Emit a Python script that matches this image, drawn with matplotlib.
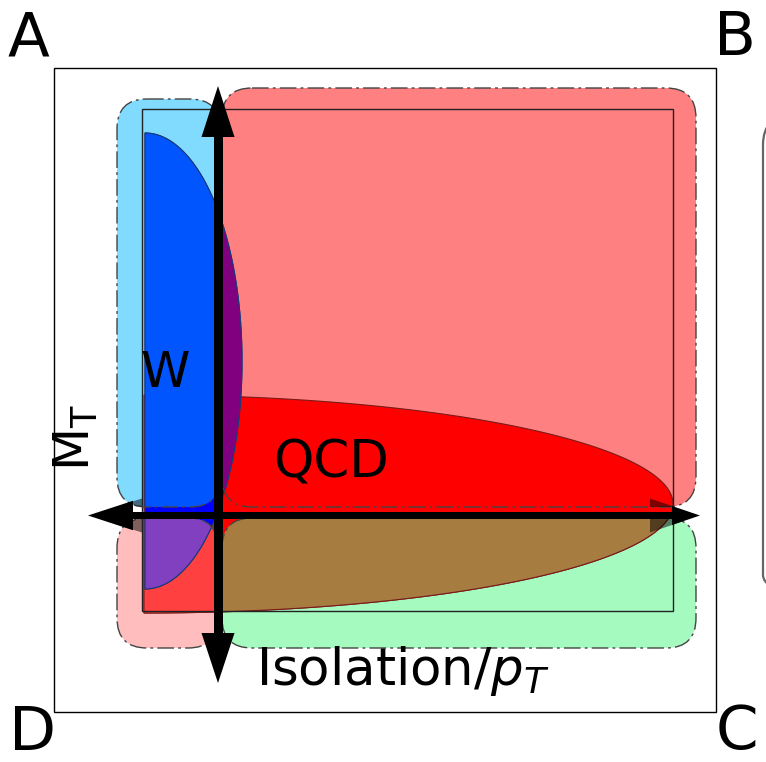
import numpy as np
import matplotlib.pyplot as plt
from matplotlib.patches import FancyBboxPatch, Rectangle, Polygon

# region corner labels (ABCD method)
corner_labels = ['A', 'B', 'C', 'D']
corner_x = [28, 735, 737, 33]
corner_y = [55, 55, 749, 750]

# region boxes: (x0, y0, x1, y1) in picture units
box_names = ['W region', 'QCD signal', 'low iso', 'low MT']
box_x0 = [117, 222, 117, 222]
box_y0 = [99, 88, 518, 518]
box_x1 = [220, 696, 218, 696]
box_y1 = [507, 507, 648, 648]
box_colors = ['#80DBFF', '#FF8080', '#FFBDBD', '#A5FAC0']

# process shapes (half ellipses): centre, radii
w_centre, w_radii = (145, 361), (97, 228)
qcd_centre, qcd_radii = (144, 504), (529, 109)

# axis cuts
iso_cut = 218
mt_cut = 515.5

fig = plt.figure(figsize=(7.66, 7.62), dpi=100)
ax = fig.add_axes([0, 0, 1, 1])
ax.set_xlim(0, 766)
ax.set_ylim(762, 0)
ax.axis('off')

# outer frame and the edge of the next panel
ax.add_patch(Rectangle((54, 68), 716 - 54, 712 - 68, fill=False, lw=1.0, ec='black', zorder=0.5))
ax.add_patch(FancyBboxPatch((763, 115), 200, 490, boxstyle='round,pad=0,rounding_size=30',
                            fill=False, lw=1.6, ec='#666666', zorder=0.5))

boxes = []
for x0, y0, x1, y1, c in zip(box_x0, box_y0, box_x1, box_y1, box_colors):
    p = FancyBboxPatch((x0, y0), x1 - x0, y1 - y0, boxstyle='round,pad=0,rounding_size=30',
                       fc=c, ec='none', zorder=1)
    ax.add_patch(p)
    boxes.append(p)


def half_ellipse(centre, radii):
    t = np.linspace(-np.pi / 2, np.pi / 2, 200)
    xs = centre[0] + radii[0] * np.cos(t)
    ys = centre[1] + radii[1] * np.sin(t)
    return np.column_stack([xs, ys])


def draw_shape(pts, base, clips, z, edge):
    p = Polygon(pts, closed=True, fc=base, ec=edge, lw=0.8, zorder=z)
    ax.add_patch(p)
    for box, col in clips:
        q = Polygon(pts, closed=True, fc=col, ec=edge, lw=0.8, zorder=z + 0.1)
        ax.add_patch(q)
        q.set_clip_path(box)


qcd_pts = half_ellipse(qcd_centre, qcd_radii)
draw_shape(qcd_pts, '#FF0000', [(boxes[2], '#FF4040'), (boxes[3], '#A67C40')], 2, '#7a1a1a')

w_pts = half_ellipse(w_centre, w_radii)
draw_shape(w_pts, '#0000FF', [(boxes[0], '#0055FF'), (boxes[1], '#800080'), (boxes[2], '#8040C0')],
           3, '#1a3a7a')

ax.add_patch(Rectangle((142, 109), 673 - 142, 611 - 109, fill=False, lw=1.0, ec='#222222', zorder=4))

for x0, y0, x1, y1 in zip(box_x0, box_y0, box_x1, box_y1):
    ax.add_patch(FancyBboxPatch((x0, y0), x1 - x0, y1 - y0, boxstyle='round,pad=0,rounding_size=30',
                                fill=False, ec='#444444', lw=1.0, ls=(0, (12, 3, 2, 3)), zorder=4))

# arrow heads seen through the boxes
right_head = [(650, mt_cut - 17), (650, mt_cut + 17), (700, mt_cut)]
left_head = [(142, mt_cut - 17), (142, mt_cut + 17), (88, mt_cut)]
for head, clip_boxes in [(right_head, (boxes[1], boxes[3])), (left_head, (boxes[0], boxes[2]))]:
    for b in clip_boxes:
        sh = Polygon(head, fc='black', alpha=0.5, ec='none', zorder=4.5)
        ax.add_patch(sh)
        sh.set_clip_path(b)

ax.add_patch(Polygon([(672, mt_cut - 9.5), (672, mt_cut + 9.5), (700, mt_cut)], fc='black', ec='none', zorder=5))
ax.add_patch(Polygon([(133, mt_cut - 14.7), (133, mt_cut + 14.7), (88, mt_cut)], fc='black', ec='none', zorder=5))
ax.add_patch(Rectangle((120, mt_cut - 3.5), 560, 7, fc='black', ec='none', zorder=5))

ax.add_patch(Rectangle((iso_cut - 4.5, 130), 9, 510, fc='black', ec='none', zorder=5))
ax.add_patch(Polygon([(iso_cut - 16.5, 137), (iso_cut + 16.5, 137), (iso_cut, 86)], fc='black', ec='none', zorder=5))
ax.add_patch(Polygon([(iso_cut - 16.5, 633), (iso_cut + 16.5, 633), (iso_cut, 683)], fc='black', ec='none', zorder=5))

# text
for lab, x, y in zip(corner_labels, corner_x, corner_y):
    ax.text(x, y, lab, fontsize=44, ha='center', va='baseline', zorder=6)

ax.text(165, 387, 'W', fontsize=36, ha='center', va='baseline', zorder=6)
ax.text(331, 478, 'QCD', fontsize=37, ha='center', va='baseline', zorder=6)
ax.text(76, 437, r'$\mathregular{M_T}$', fontsize=36, rotation=90, ha='center', va='center', zorder=6)
ax.text(256, 685, r'Isolation/$p_T$', fontsize=37, ha='left', va='baseline', zorder=6)

fig.savefig('out.png', dpi=100)
